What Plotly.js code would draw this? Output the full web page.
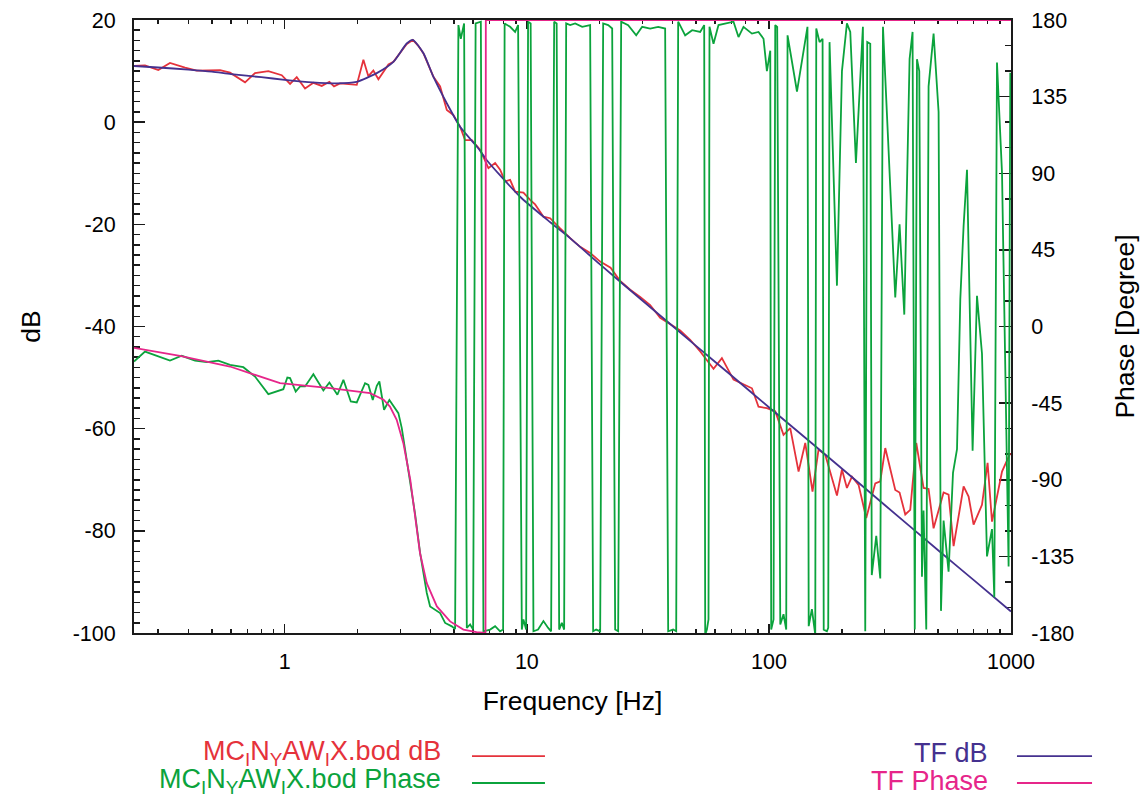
<!DOCTYPE html>
<html><head><meta charset="utf-8">
<script src="https://cdn.plot.ly/plotly-3.0.1.min.js"></script>
<style>html,body{margin:0;padding:0;background:#fff}</style>
</head><body><div id="chart" style="width:1145px;height:800px"></div>
<script>
// ---- measured magnitude (MC_IN_YAW_IX.bod dB) ----
const measDbFreq = [0.2384,0.2647,0.3004,0.3357,0.3873,0.4330,0.5403,0.5943,0.6855,0.7536,0.8555,0.9719,1.052,1.121,1.213,1.313,1.422,1.529,1.598,1.692,1.984,2.113,2.215,2.323,2.437,2.681,2.811,2.995,3.192,3.381,3.555,3.738,4.112,4.383,4.671,4.973,5.302,5.559,5.926,6.412,6.939,7.396,7.756,8.134,8.531,8.946,9.683,10.32,10.82,11.71,12.48,13.73,15.10,16.61,18.26,20.09,22.18,24.30,26.73,29.39,32.32,35.54,39.09,43.00,47.29,52.02,59.04,63.94,71.41,78.52,85.09,90.57,98.10,106.2,114.9,122.5,132.6,141.3,151.4,160.3,170.9,191.0,200.3,210.0,220.3,234.6,252.4,275.0,288.4,302.4,332.6,346.5,365.8,383.6,406.2,435.3,456.6,478.9,526.7,552.3,579.3,637.1,668.1,700.6,758.9,800.4,834.7,918.1,993.4];
const measDb = [11.0,11.1,10.2,11.6,10.7,10.1,10.2,9.7,7.8,9.6,10.0,9.2,7.5,8.8,6.6,7.7,7.1,7.9,7.0,7.6,7.3,12.2,9.0,10.1,8.4,11.3,11.8,13.6,15.3,16.1,15.0,13.5,8.9,7.0,2.4,1.4,-0.9,-3.5,-3.5,-5.4,-9.0,-8.0,-9.3,-11.6,-11.3,-13.6,-13.8,-15.2,-16.1,-18.5,-18.8,-20.8,-22.7,-24.4,-25.6,-27.3,-28.5,-31.1,-32.8,-34.2,-35.8,-38.3,-39.5,-40.8,-42.6,-44.9,-48.3,-46.2,-50.4,-51.4,-52.1,-55.7,-56.0,-56.6,-61.2,-59.9,-68.4,-62.8,-72.3,-64.1,-65.1,-73.1,-68.0,-71.6,-69.4,-71.0,-77.5,-70.7,-70.3,-63.8,-72.0,-72.5,-76.8,-75.9,-62.8,-71.6,-71.8,-79.5,-72.5,-72.9,-83.0,-71.3,-73.3,-78.8,-74.9,-66.7,-78.2,-68.4,-64.8];

// ---- measured phase (MC_IN_YAW_IX.bod Phase), degrees ----
const measPhFreq = [0.2384,0.2647,0.3357,0.3754,0.4259,0.4762,0.5316,0.5943,0.6745,0.7536,0.8555,0.9867,1.025,1.052,1.110,1.157,1.213,1.313,1.444,1.529,1.650,1.747,1.874,1.984,2.147,2.216,2.310,2.400,2.460,2.572,2.705,2.947,3.044,3.141,3.295,3.454,3.623,3.862,3.985,4.383,4.597,4.899,5.055,5.216,5.337,5.507,5.650,5.832,6.000,6.144,6.457,6.618,7.053,7.396,7.756,7.981,8.096,8.531,8.946,9.204,9.535,9.683,9.934,10.12,10.37,10.65,11.13,11.71,12.25,12.60,12.97,13.28,13.60,13.95,14.26,14.54,15.10,15.84,16.93,18.26,18.79,19.34,20.09,20.67,21.68,22.52,23.17,23.84,24.53,26.22,28.30,29.96,32.32,34.88,37.27,38.36,40.22,41.40,42.19,45.09,48.19,52.02,54.03,54.55,55.44,56.29,56.83,59.04,61.91,71.41,74.88,78.52,85.09,90.57,95.00,98.10,101.3,102.2,104.5,106.2,108.2,111.4,114.9,117.9,119.4,130.6,144.3,146.0,150.5,155.4,156.9,161.9,166.6,168.4,173.6,175.8,178.0,191.0,200.3,210.0,216.8,228.8,244.5,250.0,254.8,262.2,266.0,277.6,288.4,295.9,332.6,346.5,362.4,381.1,392.1,400.4,408.9,417.9,428.7,435.3,446.7,456.6,478.9,502.2,513.8,526.7,552.3,576.0,598.4,617.4,637.1,658.0,694.0,723.6,758.9,795.8,834.7,853.1,875.2,918.1,977.5,993.4];
const measPh = [-20.6,-14.7,-20.0,-17.2,-20.0,-20.9,-20.0,-22.5,-23.9,-29.4,-39.7,-36.8,-30.0,-30.3,-38.2,-35.2,-35.2,-28.0,-37.6,-32.9,-40.1,-31.3,-44.0,-44.6,-33.3,-34.3,-43.1,-34.8,-32.3,-48.9,-43.1,-50.9,-59.7,-72,-90,-110,-133,-156.5,-164.4,-168.3,-174.1,-176.1,-177.7,177,169,178,-177,-175,-178,178,179,-179,-178,-176,-179,-178,178,176,173,177,-178,-172,-178,179,178,-179,-178,-173,-177,-179,179,178,-178,-174,-178,178,177,178,176,177,-179,-178,-179,178,177,175,-178,-179,179,177,171,176,175,176,175,-179,-178,-179,179,171,174,173,177,-181,-178,-172,176,166,177,179,170,176,172,173,169,150,162,-178,-172,177,176,-175,-169,-178,171,138,176,-176,-166,-181,175,167,169,-178,-179,-177,167,24,150,178,173,96,176,-179,167,166,-146,-123,-148,176,17,60,7,157,173,-178,157,150,-147,-108,-178,141,172,126,-167,-114,-144,-86,-72,16,59,92,-73,18,-16,-135,-119,-159,155,90,-141,149];

// ---- model transfer function ----
const tfDbFreq = [0.2384,0.3,0.4,0.5,0.6,0.8,1.0,1.3,1.64,1.98,2.4,2.81,3.19,3.38,3.74,4.11,4.67,5.3,6.3,6.82,9.38,12.5,15,20,30,50,70,100,150,200,300,500,700,1000];
const tfDb = [11.0,10.7,10.3,9.9,9.4,8.8,8.3,7.8,7.6,7.9,9.6,11.8,15.4,16.1,13.5,8.9,3.7,-0.9,-5.1,-7.4,-14.6,-19.6,-22.6,-27.8,-34.9,-43.8,-49.6,-55.8,-62.8,-67.8,-74.9,-83.8,-89.6,-95.8];
const tfPhFreq = [0.2384,0.369,0.594,0.956,1.54,2.25,2.56,2.72,2.90,3.09,3.30,3.45,3.62,3.86,4.25,4.82,5.47,6.2,6.75,6.77,10,100,1000];
const tfPh = [-12.5,-17.2,-23.5,-33.3,-36.2,-39.1,-43,-47,-54.8,-68.5,-90,-109.6,-133,-150.7,-164.4,-173.2,-178,-179.5,-179.9,179.9,179.95,180,180];

// ---- axes ----
const xTickVals = [1,10,100,1000];
const xTickText = ['1','10','100','1000'];
const xMinorVals = [0.3,0.4,0.5,0.6,0.7,0.8,0.9,2,3,4,5,6,7,8,9,20,30,40,50,60,70,80,90,200,300,400,500,600,700,800,900];
const yTickVals = [20,0,-20,-40,-60,-80,-100];
const yTickText = ['20','0','-20','-40','-60','-80','-100'];
const y2TickVals = [180,135,90,45,0,-45,-90,-135,-180];
const y2TickText = ['180','135','90','45','0','-45','-90','-135','-180'];

const seriesNames = ['MC<sub>I</sub>N<sub>Y</sub>AW<sub>I</sub>X.bod dB','MC<sub>I</sub>N<sub>Y</sub>AW<sub>I</sub>X.bod Phase','TF dB','TF Phase'];
const colors = ['#e5323b','#0ba33c','#45318f','#e6268a'];

const FONT = 'Liberation Sans, Arial, Helvetica, sans-serif';
const AX = '#1a1a1a';
const LW = 1.8;

const traces = [
  {x: measDbFreq, y: measDb, yaxis: 'y', mode: 'lines', line: {color: colors[0], width: LW}, name: seriesNames[0]},
  {x: measPhFreq, y: measPh, yaxis: 'y2', mode: 'lines', line: {color: colors[1], width: LW}, name: seriesNames[1]},
  {x: tfDbFreq, y: tfDb, yaxis: 'y', mode: 'lines', line: {color: colors[2], width: LW, shape: 'spline', smoothing: 0.6}, name: seriesNames[2]},
  {x: tfPhFreq, y: tfPh, yaxis: 'y2', mode: 'lines', line: {color: colors[3], width: LW}, name: seriesNames[3]}
];

// legend drawn gnuplot style: right-aligned text followed by a line sample
const legendText = [
  {i: 0, x: 0.3523, y: -0.196, lx0: 0.3854, lx1: 0.4686, ly: -0.2007},
  {i: 1, x: 0.3523, y: -0.2418, lx0: 0.3854, lx1: 0.4686, ly: -0.2447},
  {i: 2, x: 0.9761, y: -0.196, lx0: 1.0068, lx1: 1.0924, ly: -0.2007},
  {i: 3, x: 0.9761, y: -0.2418, lx0: 1.0068, lx1: 1.0924, ly: -0.2447}
];
const annotations = legendText.map(e => ({
  xref: 'paper', yref: 'paper', x: e.x, y: e.y, xanchor: 'right', yanchor: 'middle',
  text: seriesNames[e.i], showarrow: false, font: {family: FONT, size: 27, color: colors[e.i]}
}));
const shapes = legendText.map(e => ({
  type: 'line', xref: 'paper', yref: 'paper', x0: e.lx0, x1: e.lx1, y0: e.ly, y1: e.ly,
  line: {color: colors[e.i], width: LW}
}));

const tickFont = {family: FONT, size: 21.5, color: '#000'};
const titleFont = {family: FONT, size: 26.5, color: '#000'};
const layout = {
  width: 1145, height: 800,
  margin: {l: 134, r: 134, t: 20, b: 167, pad: 0},
  paper_bgcolor: '#fff', plot_bgcolor: '#fff',
  showlegend: false,
  font: {family: FONT, color: '#000'},
  xaxis: {
    type: 'log', range: [Math.log10(0.2384), 3], automargin: false,
    tickmode: 'array', tickvals: xTickVals, ticktext: xTickText,
    ticks: 'inside', ticklen: 9, tickwidth: 1.5, tickcolor: AX,
    showline: true, linecolor: AX, linewidth: 2, mirror: 'ticks',
    showgrid: false, zeroline: false, layer: 'below traces',
    minor: {tickmode: 'array', tickvals: xMinorVals, ticks: 'inside', ticklen: 4, tickwidth: 1.5, tickcolor: AX, showgrid: false},
    tickfont: tickFont, ticklabelstandoff: 8,
    title: {text: 'Frequency [Hz]', font: titleFont, standoff: 19}
  },
  yaxis: {
    range: [-100, 20], automargin: false,
    tickmode: 'array', tickvals: yTickVals, ticktext: yTickText,
    ticks: 'inside', ticklen: 11, tickwidth: 1.5, tickcolor: AX,
    showline: true, linecolor: AX, linewidth: 2, mirror: false,
    showgrid: false, zeroline: false, layer: 'below traces',
    minor: {tickmode: 'linear', tick0: 0, dtick: 2, ticks: 'inside', ticklen: 6, tickwidth: 1.5, tickcolor: AX, showgrid: false},
    tickfont: tickFont, ticklabelstandoff: 12,
    title: {text: 'dB', font: titleFont, standoff: 24}
  },
  yaxis2: {
    overlaying: 'y', side: 'right', range: [-180, 180], automargin: false,
    tickmode: 'array', tickvals: y2TickVals, ticktext: y2TickText,
    ticks: 'inside', ticklen: 12, tickwidth: 1.5, tickcolor: AX,
    showline: true, linecolor: AX, linewidth: 2,
    showgrid: false, zeroline: false, layer: 'below traces',
    minor: {tickmode: 'linear', tick0: 0, dtick: 15, ticks: 'inside', ticklen: 6, tickwidth: 1.5, tickcolor: AX, showgrid: false},
    tickfont: tickFont, ticklabelstandoff: 14,
    title: {text: 'Phase [Degree]', font: titleFont, standoff: 42}
  },
  annotations: annotations,
  shapes: shapes
};

Plotly.newPlot('chart', traces, layout, {displayModeBar: false, staticPlot: true});
</script></body></html>
